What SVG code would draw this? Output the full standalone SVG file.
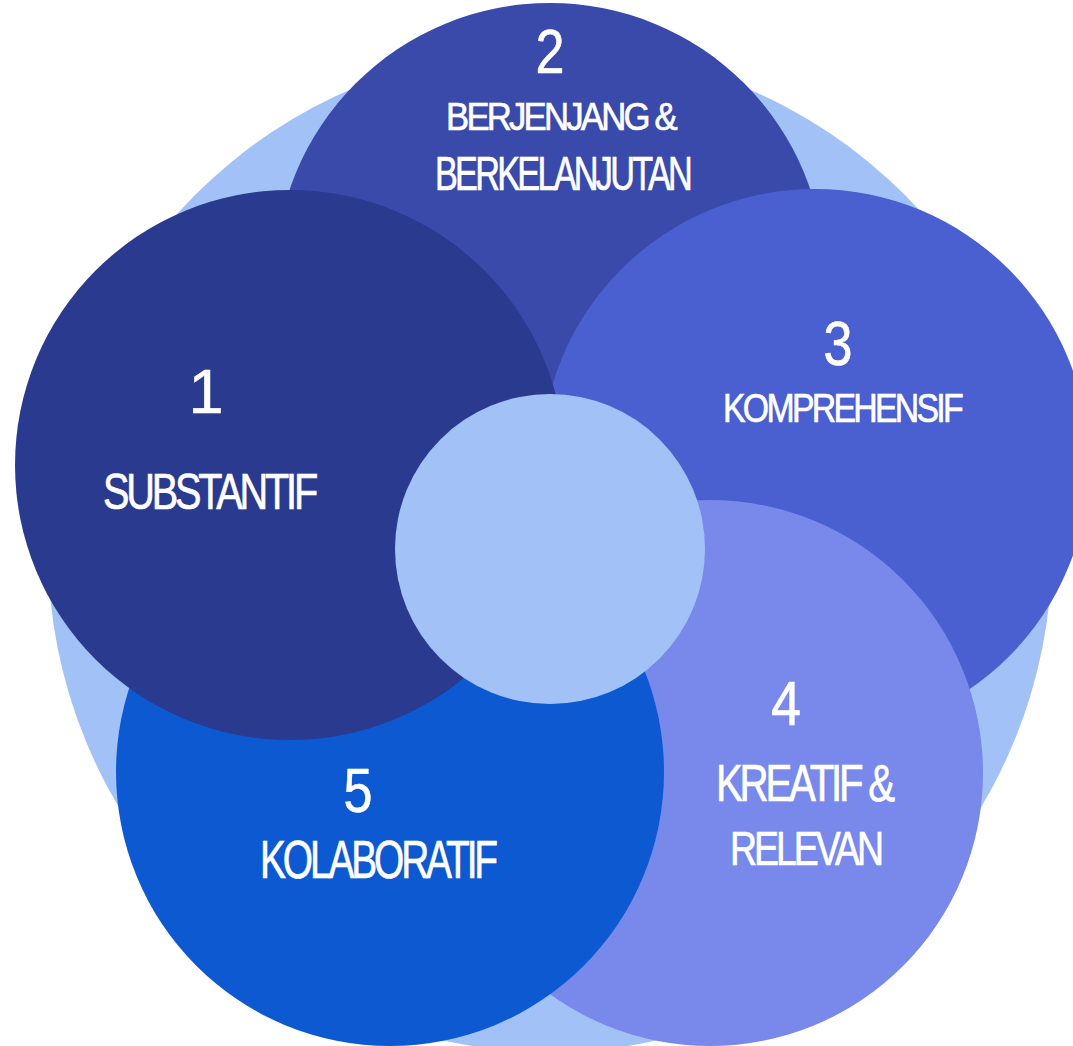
<svg xmlns="http://www.w3.org/2000/svg" width="1073" height="1046" viewBox="0 0 1073 1046">
<style>
.lbl{font-family:"Liberation Sans",Arial,sans-serif;fill:#ffffff;stroke:#ffffff;stroke-width:0.7px;letter-spacing:-0.08em;}
.num{font-family:"Liberation Sans",Arial,sans-serif;fill:#ffffff;stroke:#ffffff;stroke-width:0.6px;text-anchor:middle;font-size:63px;}
</style>
<rect width="1073" height="1046" fill="#ffffff"/>
<g id="background">
<circle cx="550" cy="550" r="502" fill="#A2C2F7"/>
</g>
<g id="node-2">
<circle cx="550" cy="278" r="275" fill="#3A4AAA"/>
<text class="num" x="550" y="73" textLength="29" lengthAdjust="spacingAndGlyphs">2</text>
<text class="lbl" x="446" y="130" font-size="39" textLength="229" lengthAdjust="spacingAndGlyphs">BERJENJANG &amp;</text>
<text class="lbl" x="435" y="190" font-size="49" textLength="255" lengthAdjust="spacingAndGlyphs">BERKELANJUTAN</text>
</g>
<g id="node-3">
<circle cx="815" cy="463" r="274" fill="#4A5FD0"/>
<text class="num" x="838" y="365" font-size="60" textLength="29" lengthAdjust="spacingAndGlyphs">3</text>
<text class="lbl" x="723" y="422" font-size="41" textLength="238" lengthAdjust="spacingAndGlyphs">KOMPREHENSIF</text>
</g>
<g id="node-4">
<circle cx="710" cy="773" r="273" fill="#7888EB"/>
<text class="num" x="786" y="725" font-size="60" textLength="30" lengthAdjust="spacingAndGlyphs">4</text>
<text class="lbl" x="716" y="801" font-size="52" textLength="176" lengthAdjust="spacingAndGlyphs">KREATIF &amp;</text>
<text class="lbl" x="730" y="865" font-size="49" textLength="151" lengthAdjust="spacingAndGlyphs">RELEVAN</text>
</g>
<g id="node-5">
<circle cx="390" cy="772" r="274" fill="#0D59D2"/>
<text class="num" x="358" y="812" textLength="29" lengthAdjust="spacingAndGlyphs">5</text>
<text class="lbl" x="260" y="878" font-size="53" textLength="235" lengthAdjust="spacingAndGlyphs">KOLABORATIF</text>
</g>
<g id="node-1">
<circle cx="290" cy="465" r="275" fill="#2A3A8F"/>
<text class="num" x="206" y="413">1</text>
<text class="lbl" x="103" y="509" font-size="50" textLength="212" lengthAdjust="spacingAndGlyphs">SUBSTANTIF</text>
</g>
<g id="node-center">
<circle cx="550" cy="549" r="155" fill="#A2C2F7"/>
</g>
<g id="connectors"/>
</svg>
